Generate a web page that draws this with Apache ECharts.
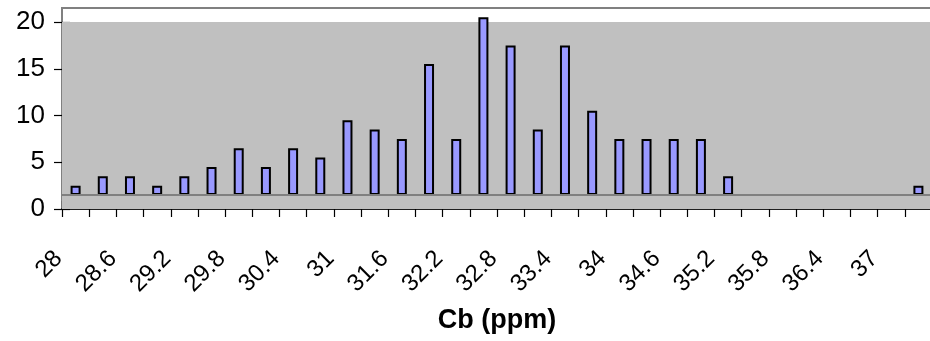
<!DOCTYPE html>
<html>
<head>
<meta charset="utf-8">
<script src="https://cdn.jsdelivr.net/npm/echarts@6/dist/echarts.min.js"></script>
<style>
html,body{margin:0;padding:0;background:#fff;}
#chart{width:930px;height:341px;}
</style>
</head>
<body>
<div id="chart"></div>
<script>
// Bin labels (Cb, ppm) - every other one is shown on the axis
var categories = ['28','28.3','28.6','28.9','29.2','29.5','29.8','30.1','30.4','30.7',
  '31','31.3','31.6','31.9','32.2','32.5','32.8','33.1','33.4','33.7',
  '34','34.3','34.6','34.9','35.2','35.5','35.8','36.1','36.4','36.7','37','37.3'];
// Bar heights above the baseline (counts per bin)
var counts = [1,2,2,1,2,3,5,3,5,4,8,7,6,14,6,19,16,7,16,9,6,6,6,6,2,0,0,0,0,0,0,1];
// Level from which the bars rise
var baseline = 1.5;
// Y tick values
var yTicks = [0,5,10,15,20];
var yMax = 21.5;
var plotTop = 20; // top of shaded plot band

var chart = echarts.init(document.getElementById('chart'), null, {renderer:'canvas'});
var font = 'Arial, "Liberation Sans", sans-serif';

var option = {
  animation: false,
  backgroundColor: '#fff',
  grid: {left: 62, top: 8, width: 870, height: 201, show: true, outerBoundsMode: 'none', containLabel: false,
         backgroundColor: '#fff', borderColor: '#808080', borderWidth: 2},
  xAxis: [{
    type: 'category', data: categories, position: 'bottom',
    axisLine: {show: true, lineStyle: {color: '#000', width: 1.5}},
    axisTick: {show: true, inside: false, length: 8, interval: 0, lineStyle: {color: '#000', width: 1.2}},
    axisLabel: {show: true, interval: 1, rotate: 45, margin: 29, padding: [0, 24, 8, 0],
                fontFamily: font, fontSize: 24, color: '#000'},
    splitLine: {show: false},
    name: 'Cb (ppm)', nameLocation: 'middle', nameGap: 98,
    nameTextStyle: {fontFamily: font, fontSize: 27, fontWeight: 'bold', color: '#000'}
  }, {
    type: 'category', data: categories, position: 'bottom',
    axisLine: {show: false},
    axisTick: {show: true, inside: true, length: 8, interval: 0, lineStyle: {color: '#000', width: 1.2}},
    axisLabel: {show: false}, splitLine: {show: false}
  }],
  yAxis: [{
    type: 'value', min: 0, max: yMax, interval: 5,
    axisLine: {show: true, lineStyle: {color: '#808080', width: 2}},
    axisTick: {show: true, inside: false, length: 8, customValues: yTicks, lineStyle: {color: '#000', width: 1.2}},
    axisLabel: {show: true, customValues: yTicks, margin: 17, fontFamily: font, fontSize: 26, color: '#000'},
    splitLine: {show: false}
  }, {
    type: 'value', min: 0, max: yMax, interval: 5, position: 'left',
    axisLine: {show: false},
    axisTick: {show: true, inside: true, length: 8, customValues: yTicks, lineStyle: {color: '#000', width: 1.2}},
    axisLabel: {show: false}, splitLine: {show: false}
  }],
  series: [{
    type: 'bar', stack: 'h', xAxisIndex: 0, yAxisIndex: 0, z: 1,
    barWidth: 10,
    data: categories.map(function(){ return baseline; }),
    itemStyle: {color: 'rgba(0,0,0,0)', borderWidth: 0},
    silent: true,
    markArea: {silent: true, itemStyle: {color: '#C0C0C0'},
      data: [[{yAxis: 0}, {yAxis: plotTop}]]},
    markLine: {silent: true, symbol: 'none', label: {show: false},
      lineStyle: {color: '#808080', width: 2, type: 'solid'},
      data: [{yAxis: baseline}]}
  }, {
    type: 'bar', stack: 'h', xAxisIndex: 0, yAxisIndex: 0, z: 3,
    barWidth: 10,
    data: counts.map(function(c){ return c > 0 ? c : '-'; }),
    itemStyle: {color: '#9999FF', borderColor: '#000', borderWidth: 2}
  }]
};
chart.setOption(option);
</script>
</body>
</html>
